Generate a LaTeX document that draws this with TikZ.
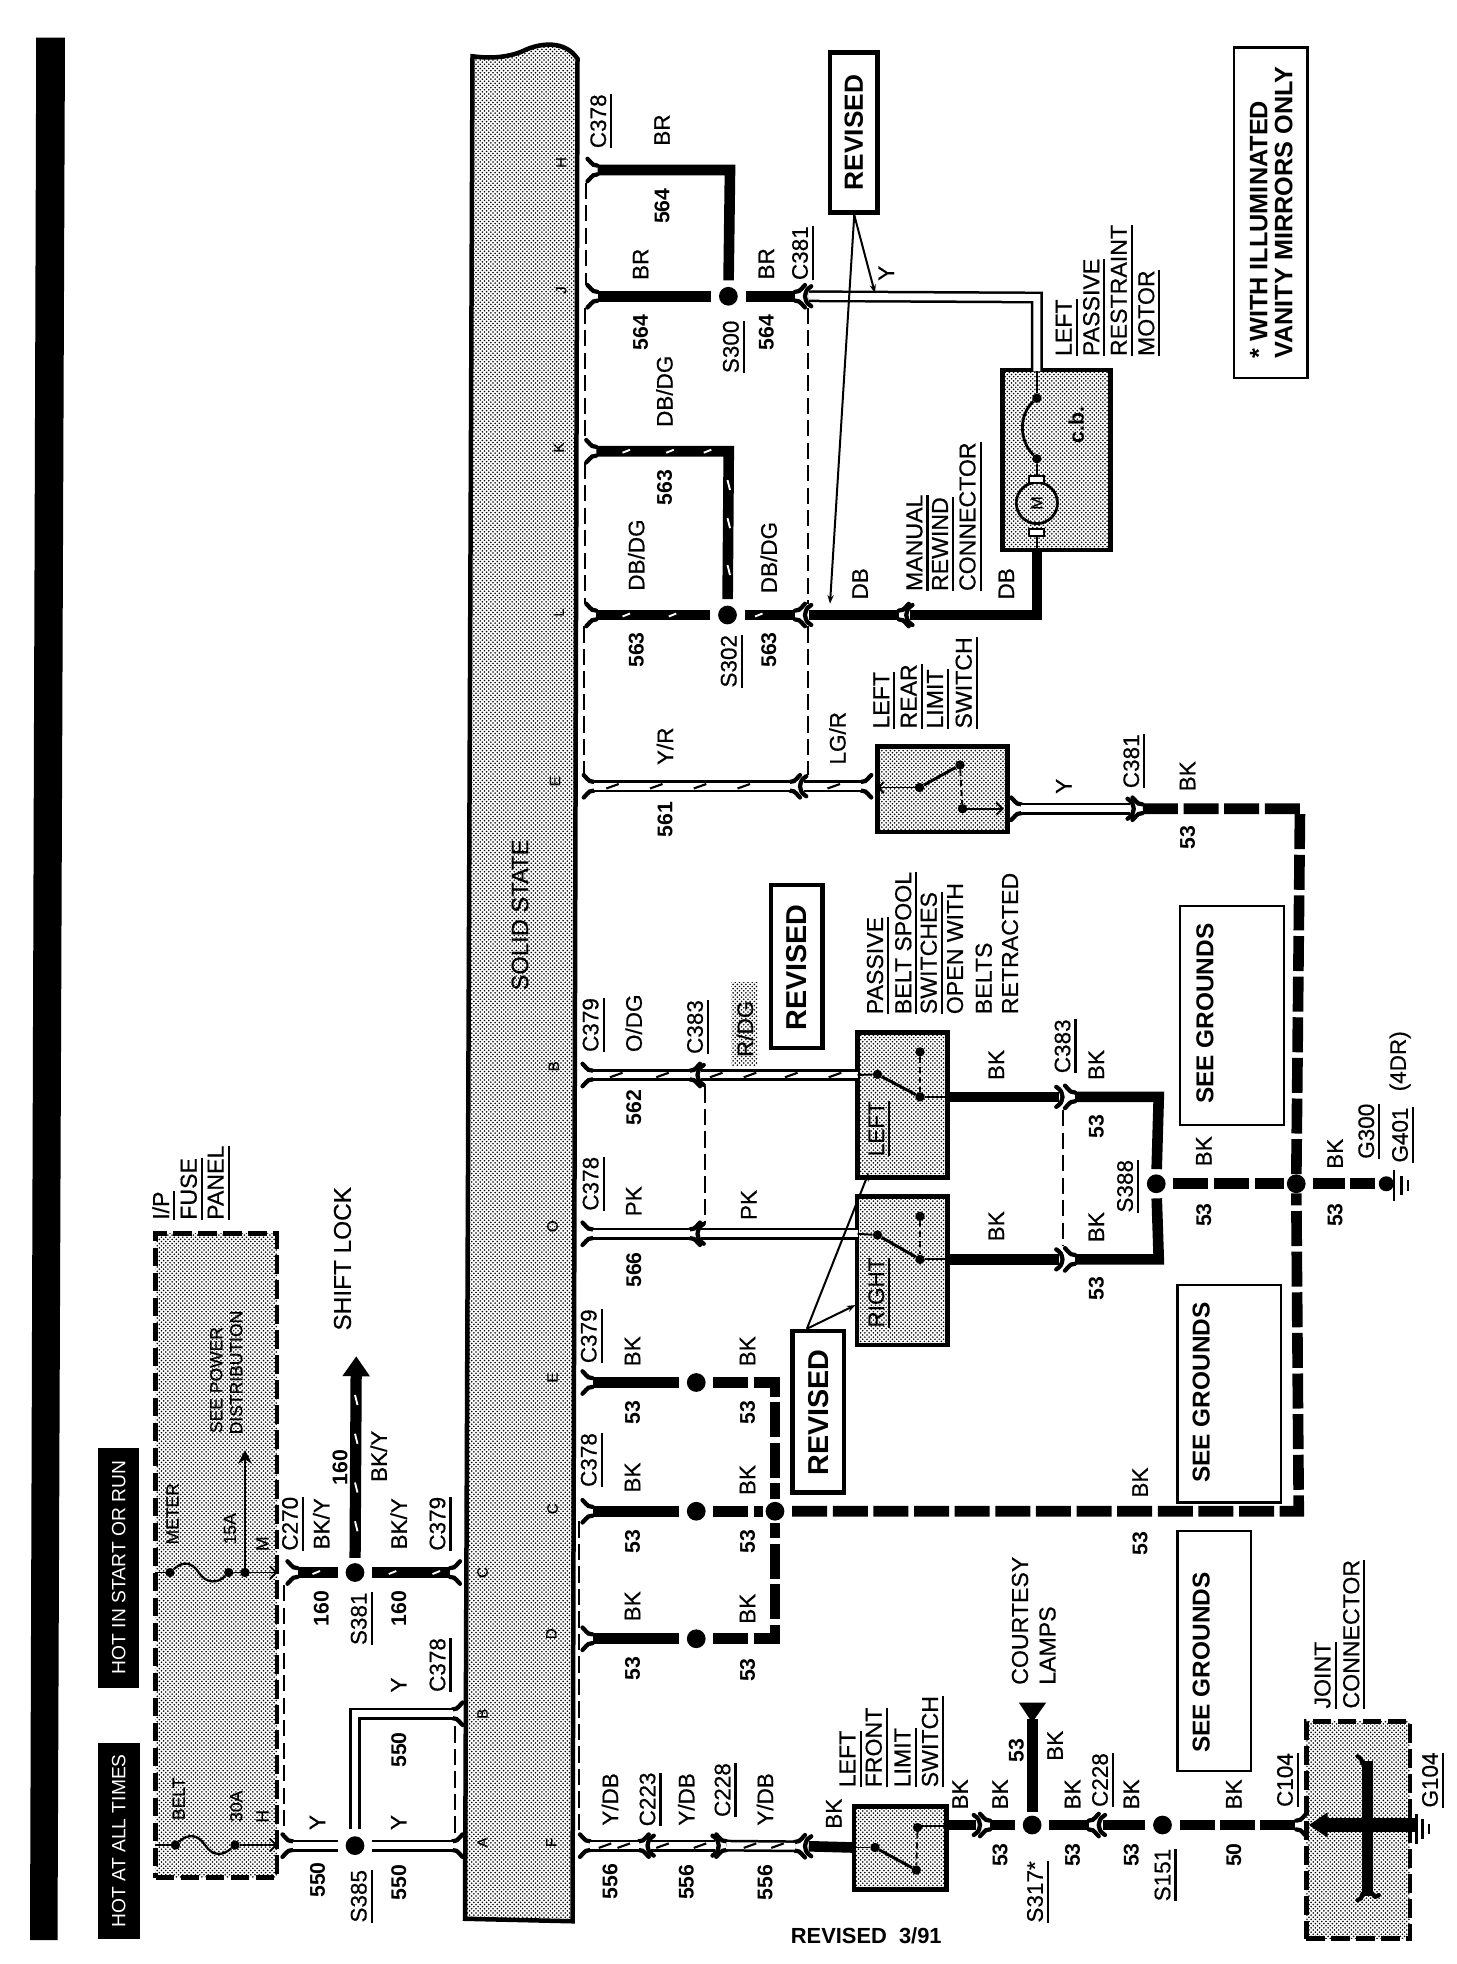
\documentclass[tikz,border=0pt]{standalone}
\usepackage{fontspec}
\setmainfont{Liberation Sans}
\newfontfamily\rg{Liberation Sans}[FakeBold=0.5]
\usetikzlibrary{patterns,arrows.meta}
\pgfdeclarepatternformonly{halft}{\pgfqpoint{-1pt}{-1pt}}{\pgfqpoint{4.4pt}{4.4pt}}{\pgfqpoint{3.4pt}{3.4pt}}{\pgfpathcircle{\pgfqpoint{0pt}{0pt}}{0.76pt}\pgfpathcircle{\pgfqpoint{1.7pt}{1.7pt}}{0.76pt}\pgfusepath{fill}}
\newcounter{tx}
\newcommand\ulx[1]{\leavevmode\setbox0\hbox{#1}\rlap{\smash{\rule[-5pt]{\wd0}{1.7pt}}}\box0}
\newcommand\fs[1]{\fontsize{#1}{#1}\selectfont}
\tikzset{
  lab/.style={rotate=90,inner sep=0pt,font=\rg\fs{18}},
  num/.style={rotate=90,inner sep=0pt,font=\fs{17}\bfseries},
  stk/.style={rotate=90,inner sep=0pt,anchor=west,font=\rg\fs{18.5}},
  pinlab/.style={rotate=90,inner sep=0pt,font=\rg\fs{12}},
  small/.style={rotate=90,inner sep=0pt,font=\rg\fs{14}},
  hdr/.style={rotate=90,fill=black,text=white,inner sep=0pt,font=\fs{15.4}},
  halfbox/.style={pattern=halft,pattern color=black},
  swbox/.style={draw,line width=3.6pt,halfbox,inner sep=0pt},
  dbox/.style={draw,line width=3.7pt,dash pattern=on 15pt off 5pt,halfbox,inner sep=0pt},
  notebox/.style={draw,line width=1.8pt,inner sep=0pt},
  revbox/.style={draw,line width=3.4pt,inner sep=0pt},
  revtxt/.style={rotate=90,inner sep=0pt,font=\fs{23}\bfseries},
  seebox/.style={rotate=90,inner sep=0pt,font=\fs{19.5}\bfseries},
  wk/.style={line width=8.5pt},
  wkd/.style={line width=8.5pt,dash pattern=on 28pt off 4.5pt},
  wd/.style={line width=2pt,double=white,double distance=5.5pt},
  thin line/.style={line width=1.5pt},
  tdash/.style={line width=1.6pt,dash pattern=on 13pt off 5pt},
  prong/.style={line width=3.4pt,line cap=round},
  splice/.style={circle,fill=black,inner sep=0pt,minimum size=15pt},
  tiny dot/.style={circle,fill=black,inner sep=0pt,minimum size=7.5pt},
  barb/.style={-{Straight Barb[length=5pt,width=10pt]}},
  rev arrow/.style={line width=1.6pt,-{Stealth[length=7pt,width=5pt]}}
}
\newcommand\tlab[3]{\stepcounter{tx}\node[lab] (t\arabic{tx}) at (#1,#2) {#3};}
\newcommand\tnum[3]{\stepcounter{tx}\node[num] (t\arabic{tx}) at (#1,#2) {#3};}
\newcommand\tul[3]{\stepcounter{tx}\node[lab] (t\arabic{tx}) at (#1,#2) {\ulx{#3}};}
\newcommand\tstk[3]{\stepcounter{tx}\node[stk] (t\arabic{tx}) at (#1,#2) {\ulx{#3}};}
\newcommand\tstp[3]{\stepcounter{tx}\node[stk] (t\arabic{tx}) at (#1,#2) {#3};}
\newcommand\tpin[3]{\stepcounter{tx}\node[pinlab] (t\arabic{tx}) at (#1,#2) {#3};}
\newcommand\tsm[3]{\stepcounter{tx}\node[small] (t\arabic{tx}) at (#1,#2) {#3};}
% box: name x1 y1 x2 y2 style
\newcommand\bx[6]{\node[#6,minimum width={(#4-#2)*1pt},minimum height={(#5-#3)*1pt}] (#1) at ({(#2+#4)/2},{(#3+#5)/2}) {};}
% flare: name x y dir
\newcommand\fl[4]{\coordinate (#1) at (#2,#3);
 \draw[prong] ({#2},{#3-3.5}) .. controls ({#2+#4*3},{#3-3.5}) .. ({#2+#4*8},{#3-9});
 \draw[prong] ({#2},{#3+3.5}) .. controls ({#2+#4*3},{#3+3.5}) .. ({#2+#4*8},{#3+9});}
% pointed end: name x y dir (tip at x, pointing dir)
\newcommand\pn[4]{\coordinate (#1) at ({#2-#4*3},#3);
 \draw[prong] ({#2-#4*5},{#3-8}) .. controls ({#2-#4*1},{#3-5}) .. ({#2},{#3}) .. controls ({#2-#4*1},{#3+5}) .. ({#2-#4*5},{#3+8});}
\newcommand\hw[2]{\draw[white,line width=1.5pt] ({#1-3},{#2+1.2}) -- ({#1+3},{#2-1.2});}
\newcommand\hv[2]{\draw[white,line width=1.5pt] ({#1-1},{#2-4}) -- ({#1+1},{#2+4});}
\newcommand\hb[2]{\draw[line width=1.7pt] ({#1-5},{#2+1.8}) -- ({#1+5},{#2-1.8});}
\begin{document}
\begin{tikzpicture}[x=1pt,y=-1pt,line join=miter]
\useasboundingbox (0,0) rectangle (1164.8,1571.2);
% left bar
\fill (29,30) -- (52,30) -- (46,1552) -- (24,1552) -- cycle;
% headers
\node[hdr,minimum width=157pt,minimum height=34pt] (hotall) at (95,1472.5) {HOT AT ALL TIMES};
\node[hdr,minimum width=192pt,minimum height=33pt] (hotrun) at (95,1254) {HOT IN START OR RUN};
% main block
\path[draw,line width=3.6pt,halfbox] (378,45) .. controls (392,47) and (406,46) .. (418,41) .. controls (432,34) and (452,32) .. (462,47) -- (458,1537) -- (372,1535) -- cycle;
\stepcounter{tx}\node[rotate=90,inner sep=0pt,font=\rg\fs{19}] (solid) at (416,732) {SOLID STATE};
\tpin{386}{1474}{A}\tpin{386}{1371}{B}\tpin{386}{1258}{C}
\tpin{441}{1474}{F}\tpin{441}{1307}{D}\tpin{442}{1207}{C}\tpin{442}{1102}{E}\tpin{442}{981}{O}
\tpin{443}{853}{B}\tpin{444}{625}{E}\tpin{447}{490}{L}\tpin{447}{358}{K}\tpin{449}{232}{J}\tpin{449}{130}{H}
% fuse panel
\bx{panel}{124.5}{987}{221.5}{1502}{dbox}
\tsm{143}{1439}{BELT}\tsm{189}{1445}{30A}\tsm{210}{1453}{H}
\tsm{138}{1211}{METER}\tsm{184}{1223}{15A}\tsm{210}{1235}{M}
\tsm{173}{1104}{SEE POWER}\tsm{189}{1098}{DISTRIBUTION}
\tstk{128.6}{976}{I/P}\tstk{151}{976}{FUSE}\tstk{172.5}{976}{PANEL}
\node[tiny dot] (b1) at (140.4,1476) {};\node[tiny dot] (b2) at (188,1476) {};
\node[tiny dot] (m1) at (136,1258) {};\node[tiny dot] (m2) at (183,1258) {};\node[tiny dot] (m3) at (196,1258) {};
\coordinate (pb0) at (124,1476);\coordinate (pb1) at (222,1476);
\coordinate (pm0) at (124,1258);\coordinate (pm1) at (222,1258);\coordinate (pmu) at (196,1160);
\draw[thin line] (pb0) -- (b1);\draw[thin line,barb] (b2) -- (pb1);
\draw[line width=1.8pt] (b1) .. controls (150,1467) and (158,1467) .. (164,1476) .. controls (170,1485) and (178,1485) .. (b2);
\draw[thin line] (pm0) -- (m1);\draw[thin line,barb] (m2) -- (pm1);
\draw[line width=1.8pt] (m1) .. controls (146,1249) and (153,1249) .. (159,1258) .. controls (165,1267) and (174,1267) .. (m2);
\draw[thin line,-{Stealth[length=11pt,width=11pt]}] (m3) -- (pmu);
% S385 S381 area
\node[splice] (s385) at (284,1476.5) {};
\node[splice] (s381) at (284,1258) {};
\fl{y1}{234}{1476.5}{-1}
\fl{y2}{362}{1476.5}{1}
\fl{y3}{362}{1371}{1}
\fl{k1}{238}{1258}{-1}
\fl{k2}{360}{1258}{1}
\coordinate (ycorner) at (284,1371);
\draw[wd,shorten >=6pt] (y1) -- (s385);
\draw[wd,shorten <=6pt] (s385) -- (y2);
\draw[wd,shorten <=6pt] (s385) -- (ycorner) -- (y3);
\draw[wk,shorten >=6pt] (k1) -- (s381);
\draw[wk,shorten <=6pt] (s381) -- (k2);
\coordinate (d1a) at (227,1268);\coordinate (d1b) at (227,1467);
\coordinate (d2a) at (364,1381);\coordinate (d2b) at (364,1467);
\draw[tdash] (d1a) -- (d1b);\draw[tdash] (d2a) -- (d2b);
\coordinate (shift) at (285,1085);
\draw[line width=9pt,shorten <=4pt,-{Triangle[length=16pt,width=21pt]}] (s381) -- (shift);
\foreach \q in {1120,1151,1190,1221}{\hv{285}{\q}}
\hw{253}{1258}\hw{314}{1258}\hw{349}{1258}
\tul{232}{1219}{C270}\tlab{257}{1219}{BK/Y}\tnum{257}{1287}{160}\tnum{272}{1174}{160}\tlab{303}{1165}{BK/Y}
\tlab{319}{1219}{BK/Y}\tul{350}{1219}{C379}\tul{287}{1295}{S381}\tnum{319}{1287}{160}
\stepcounter{tx}\node[rotate=90,inner sep=0pt,font=\rg\fs{19.5}] (shiftlab) at (274,1007) {SHIFT LOCK};
\tlab{319}{1348}{Y}\tul{350}{1332}{C378}\tnum{319}{1400}{550}\tlab{319}{1458}{Y}\tnum{319}{1506}{550}
\tlab{254}{1458}{Y}\tnum{254}{1504}{550}\tul{287}{1517}{S385}
% rows of BK from block
\node[splice] (sD) at (557,1311) {};\node[splice] (sC) at (557,1209) {};\node[splice] (sE) at (557,1106) {};
\node[splice] (sM) at (620,1209) {};
\fl{pD}{474}{1311}{-1}\fl{pC}{474}{1209}{-1}\fl{pE}{474}{1106}{-1}
\draw[wk,shorten >=6pt] (pD) -- (sD);\draw[wk,shorten >=6pt] (pC) -- (sC);\draw[wk,shorten >=6pt] (pE) -- (sE);
\draw[wkd,shorten <=6pt,shorten >=2pt] (sD) -| (sM);
\draw[wkd,shorten <=6pt,shorten >=2pt] (sE) -| (sM);
\draw[wkd,shorten <=6pt,shorten >=2pt] (sC) -- (sM);
\coordinate (cC) at (1039,1209);\coordinate (cT) at (1040,647);
\node[splice] (sG) at (1037,947) {};
\node[splice] (s388) at (925,947) {};
\coordinate (pYs) at (914,647);
\draw[wkd,shorten <=6pt] (sM) -- (cC) -- (sG);
\draw[wkd] (sG) -- (cT) -- (pYs);
\draw[wkd,shorten <=6pt,shorten >=2pt] (s388) -- (sG);
\coordinate (gnd) at (1100,947);
\draw[wkd,shorten <=6pt,dash pattern=on 25pt off 4pt] (sG) -- (gnd);
\coordinate (dh1) at (463,1217);\coordinate (dh2) at (463,1467);
\draw[tdash] (dh1) -- (dh2);
\tlab{506}{1285}{BK}\tnum{506}{1335}{53}\tlab{506}{1182}{BK}\tnum{506}{1233}{53}\tlab{506}{1081}{BK}\tnum{506}{1130}{53}
\tul{471}{1168}{C378}\tul{471}{1069}{C379}
\tlab{598}{1081}{BK}\tnum{598}{1130}{53}\tlab{598}{1184}{BK}\tnum{598}{1233}{53}\tlab{598}{1287}{BK}\tnum{598}{1336}{53}
% ground G300
\node[circle,fill=black,inner sep=0pt,minimum size=12pt] (g300) at (1109,947) {};
\coordinate (ga1) at (1115,936);\coordinate (ga2) at (1115,961);
\coordinate (gb1) at (1121,941);\coordinate (gb2) at (1121,956);
\coordinate (gc1) at (1126,944);\coordinate (gc2) at (1126,953);
\draw[line width=2pt] (ga1) -- (ga2);\draw[line width=2pt] (gb1) -- (gb2);\draw[line width=1.6pt] (gc1) -- (gc2);
\tnum{1068}{972}{53}\tlab{1068}{923}{BK}\tul{1093}{905}{G300}\tul{1120}{908}{G401}\tlab{1120}{849}{(4DR)}
% Y/DB row
\fl{a1}{472}{1476.5}{-1}\fl{a2}{511}{1476.5}{1}
\pn{a3}{518}{1476.5}{-1}\pn{a4}{575}{1476.5}{1}
\fl{a5}{581}{1476.5}{-1}\fl{a6}{636}{1477}{1}
\pn{a7}{644}{1477}{-1}
\draw[wd] (a1) -- (a2);\draw[wd] (a3) -- (a4);\draw[wd] (a5) -- (a6);
\foreach \q in {484,499}{\hb{\q}{1476.5}}
\foreach \q in {530,560}{\hb{\q}{1476.5}}
\foreach \q in {600,622}{\hb{\q}{1476.5}}
\tlab{488}{1439.5}{Y/DB}\tnum{488}{1505}{556}\tul{518}{1439.5}{C223}\tlab{549}{1439.5}{Y/DB}\tnum{549}{1505.7}{556}
\tul{578}{1432}{C228}\tlab{612}{1439.5}{Y/DB}\tnum{612}{1506}{556}
% front limit switch
\bx{fsw}{683}{1445}{757}{1511.5}{swbox}
\coordinate (fin) at (683,1478);
\draw[wk] (a7) -- (fin);
\node[tiny dot] (f1) at (700,1478) {};\node[tiny dot] (f2) at (733,1496) {};\node[tiny dot] (f3) at (734,1462) {};
\coordinate (fo) at (757,1461);\coordinate (fil) at (683,1478);
\draw[thin line] (fil) -- (f1);\draw[line width=2.4pt] (f1) -- (f2);\draw[thin line] (f3) |- (fo);
\draw[thin line,dash pattern=on 5pt off 3pt] (f3) -- (f2);
\tlab{667}{1451}{BK}\tstk{678}{1430}{LEFT}\tstk{699}{1430}{FRONT}\tstk{722}{1430}{LIMIT}\tstk{744}{1430}{SWITCH}
\tlab{768}{1435.5}{BK}
% courtesy row
\node[splice] (s317) at (825.7,1460) {};\node[splice] (s151) at (930,1460) {};
\pn{c1}{784}{1460}{1}\fl{c2}{792}{1460}{-1}
\coordinate (c1b) at (757,1460);
\draw[wk] (c1b) -- (c1);
\draw[wk,shorten >=6pt] (c2) -- (s317);
\pn{c3}{879}{1460}{-1}\fl{c4}{871}{1460}{1}
\draw[wk,shorten <=6pt] (s317) -- (c4);
\draw[wk,shorten >=6pt] (c3) -- (s151);
\fl{c5}{1037}{1460}{1}
\draw[wkd,shorten <=6pt,dash pattern=on 28pt off 4pt] (s151) -- (c5);
\coordinate (lamp) at (825.7,1375);
\draw[line width=9pt,shorten <=3pt] (s317) -- (lamp);
\fill (815,1362) -- (837,1362) -- (825.7,1378) -- cycle;
\tlab{800}{1435.5}{BK}\tnum{800}{1484}{53}\tul{828}{1513.5}{S317*}\tnum{813}{1400.5}{53}\tlab{844}{1396.6}{BK}
\tlab{858}{1435.5}{BK}\tnum{858}{1484}{53}\tul{880}{1424}{C228}\tlab{905}{1435.5}{BK}\tnum{905}{1484}{53}
\tul{930}{1500}{S151}\tlab{987}{1435.5}{BK}\tnum{987}{1484}{50}\tul{1028}{1424}{C104}\tul{1144}{1424}{G104}
\tstk{1058}{1367}{JOINT}\tstk{1081}{1367}{CONNECTOR}
\tstp{816}{1348}{COURTESY}\tstp{838}{1348}{LAMPS}
\stepcounter{tx}\node[inner sep=0pt,font=\fs{17.5}\bfseries] (rev391) at (693,1548.6) {REVISED~ 3/91};
% joint connector
\bx{joint}{1045}{1377}{1128}{1551}{dbox}
\coordinate (jr) at (1132,1460);\coordinate (jl) at (1047,1460);
\draw[line width=11pt,-{Triangle[length=15pt,width=19pt]}] (jr) -- (jl);
\coordinate (jt) at (1094,1409);\coordinate (jb) at (1094,1517);
\draw[line width=9.5pt] (jt) -- (jb);
\draw[prong] (1090,1411) .. controls (1089,1407) .. (1086,1405);
\draw[prong] (1090,1515) .. controls (1089,1519) .. (1086,1520);
\draw[prong] (1098,1515) .. controls (1100,1518) .. (1103,1516);
\coordinate (ja1) at (1133,1451);\coordinate (ja2) at (1133,1475);
\coordinate (jb1) at (1138,1455);\coordinate (jb2) at (1138,1471);
\coordinate (jc1) at (1143,1459);\coordinate (jc2) at (1143,1467);
\draw[line width=2.5pt] (ja1) -- (ja2);\draw[line width=2pt] (jb1) -- (jb2);\draw[line width=1.6pt] (jc1) -- (jc2);
% SEE GROUNDS boxes
\bx{sg1}{942}{1225}{1001}{1417}{notebox}
\bx{sg2}{942}{1028}{1025}{1202}{notebox}
\bx{sg3}{944}{725}{1027}{900}{notebox}
\node[seebox] (sgt1) at (961,1330) {SEE GROUNDS};
\node[seebox] (sgt2) at (961,1114) {SEE GROUNDS};
\node[seebox] (sgt3) at (964,811) {SEE GROUNDS};
\tlab{912}{1186}{BK}\tnum{912}{1235}{53}
% S388 branches
\coordinate (lout) at (758,877.5);\coordinate (rout) at (758,1007.5);
\coordinate (cl) at (927,877.5);\coordinate (cr) at (927,1007.5);
\pn{l1}{850}{877.5}{1}\fl{l2}{860}{877.5}{-1}
\pn{r1}{850}{1007.5}{1}\fl{r2}{860}{1007.5}{-1}
\draw[wk] (lout) -- (l1);\draw[wk] (rout) -- (r1);
\draw[wk,shorten >=4pt] (l2) -- (cl) -- (s388);
\draw[wk,shorten >=4pt] (r2) -- (cr) -- (s388);
\coordinate (d3a) at (850,888);\coordinate (d3b) at (850,997);
\draw[tdash] (d3a) -- (d3b);
\tlab{797}{852}{BK}\tul{850}{837}{C383}\tlab{877}{852}{BK}\tnum{877}{901}{53}\tul{900}{949}{S388}
\tlab{963}{921}{BK}\tnum{963}{972}{53}
\tlab{797}{981}{BK}\tlab{877}{981.7}{BK}\tnum{877}{1031}{53}
% belt spool switches
\bx{lsw}{686}{826}{758}{942}{swbox}
\bx{rsw}{685.5}{957}{758}{1076}{swbox}
\node[rotate=90,inner sep=0pt,font=\rg\fs{18}] (ltxt) at (701,903) {\ulx{LEFT}};
\node[rotate=90,inner sep=0pt,font=\rg\fs{18}] (rtxt) at (701,1034) {\ulx{RIGHT}};
\node[tiny dot] (l1d) at (702,859.5) {};\node[tiny dot] (l2d) at (736,877.5) {};\node[tiny dot] (l3d) at (736,841.5) {};
\node[tiny dot] (r1d) at (702,988) {};\node[tiny dot] (r2d) at (736,1007.5) {};\node[tiny dot] (r3d) at (736,973) {};
\draw[line width=2.4pt] (l1d) -- (l2d);\draw[line width=2.4pt] (r1d) -- (r2d);
\draw[thin line,dash pattern=on 5pt off 3pt] (l3d) -- (l2d);\draw[thin line,dash pattern=on 5pt off 3pt] (r3d) -- (r2d);
\draw[thin line] (l2d) -- (lout);\draw[thin line] (r2d) -- (rout);
% PK and O/DG rows
\fl{o1}{474}{860}{-1}\fl{o2}{552}{860}{1}\pn{o3}{558}{860}{-1}
\fl{q1}{474}{987}{-1}\fl{q2}{552}{987}{1}\pn{q3}{558}{987}{-1}
\coordinate (o4) at (686,860);\coordinate (q4) at (686,987);
\draw[wd] (o1) -- (o2);\draw[wd] (o3) -- (o4);\draw[wd] (q1) -- (q2);\draw[wd] (q3) -- (q4);
\draw[line width=1.5pt] (o4) -- (l1d);\draw[line width=1.5pt] (q4) -- (r1d);
\foreach \q in {493,530,573,600,633,668}{\hb{\q}{860}}
\coordinate (d4a) at (564,869);\coordinate (d4b) at (564,978);
\draw[tdash] (d4a) -- (d4b);
\tul{472.5}{820}{C379}\tlab{507}{818.6}{O/DG}\tnum{507}{886}{562}\tul{556}{821.6}{C383}
\bx{rdgbg}{585}{786}{606}{852}{halfbox}
\tlab{596}{823}{R/DG}
\tul{472.5}{947}{C378}\tlab{507}{961}{PK}\tnum{507}{1016}{566}\tlab{599}{964}{PK}
% REVISED boxes
\bx{rev1}{617}{708}{658}{838.5}{revbox}\node[revtxt] (rev1t) at (637.5,774) {REVISED};
\bx{rev2}{634}{1065}{675}{1194}{revbox}\node[revtxt] (rev2t) at (655,1130) {REVISED};
\bx{rev3}{664}{42}{702}{170}{revbox}\node[revtxt,font=\fs{21}\bfseries] (rev3t) at (683,106) {REVISED};
\coordinate (rv2) at (645.5,1063);\coordinate (rt1) at (684.5,1044);\coordinate (rt2) at (695,938);
\draw[rev arrow] (rv2) -- (rt1);\draw[rev arrow] (rv2) -- (rt2);
\tstk{700}{811.5}{PASSIVE}\tstk{722.6}{811.5}{BELT SPOOL}\tstk{743}{811.5}{SWITCHES}
\tstp{764}{811.5}{OPEN WITH}\tstp{787}{811.5}{BELTS}\tstp{808}{811.5}{RETRACTED}
% rear limit row
\fl{e1}{475}{629}{-1}\fl{e2}{632}{629}{1}\pn{e3}{640}{629}{-1}\fl{e4}{689}{629}{1}
\draw[wd] (e1) -- (e2);\draw[wd] (e3) -- (e4);
\foreach \q in {490,525,560,595,667}{\hb{\q}{629}}
\tlab{532}{597}{Y/R}\tnum{532}{655.5}{561}\tlab{670}{590.6}{LG/R}
\bx{rear}{702}{597}{806}{665.5}{swbox}
\node[tiny dot] (e5) at (735.6,630) {};\node[tiny dot] (e6) at (768,612) {};\node[tiny dot] (e7) at (770,647) {};
\coordinate (e8) at (702,630);\coordinate (e9) at (803,647);
\draw[thin line,{Straight Barb[length=4pt,width=9pt]}-] (e8) -- (e5);
\draw[line width=2.4pt] (e5) -- (e6);\draw[thin line,dash pattern=on 5pt off 3pt] (e6) -- (e7);
\draw[thin line,barb] (e7) -- (e9);
\fl{e10}{817}{647}{-1}\pn{e11}{907}{647}{1}\fl{e12}{914}{647}{-1}
\draw[wd] (e10) -- (e11);
\tlab{851}{629}{Y}\tul{905}{609}{C381}\tlab{950}{621}{BK}\tnum{950}{670}{53}
\tstk{705}{583}{LEFT}\tstk{727}{583}{REAR}\tstk{748}{583}{LIMIT}\tstk{771}{583}{SWITCH}
% top right rows
\node[splice] (s300) at (582.7,237) {};\node[splice] (s302) at (582,492) {};
\fl{h1}{478}{136}{-1}\fl{j1}{478}{237}{-1}\fl{k3}{477}{361}{-1}\fl{l3}{477}{492}{-1}
\coordinate (hc) at (584,136);\coordinate (kc) at (583,361);
\draw[wk,shorten >=5pt] (h1) -- (hc) -- (s300);
\draw[wk,shorten >=6pt] (j1) -- (s300);
\draw[wk,shorten >=5pt] (k3) -- (kc) -- (s302);
\draw[wk,shorten >=6pt] (l3) -- (s302);
\fl{j2}{636}{237}{1}\pn{j3}{644}{237}{-1}
\fl{l4}{636}{492}{1}\pn{l5}{644}{492}{-1}
\draw[wk,shorten <=6pt] (s300) -- (j2);
\draw[wk,shorten <=6pt] (s302) -- (l4);
\foreach \q in {501,536,566}{\hw{\q}{361}}
\foreach \q in {388,418.5,456}{\hv{583}{\q}}
\hw{501}{492}\hw{538}{492}\hw{607}{492}
\coordinate (dj1) at (469,146);\coordinate (dj2) at (469,228);
\coordinate (dk1) at (468,246);\coordinate (dk2) at (468,352);
\coordinate (dl1) at (468,370);\coordinate (dl2) at (468,483);
\coordinate (de1) at (467,501);\coordinate (de2) at (467,620);
\draw[tdash] (dj1) -- (dj2);\draw[tdash] (dk1) -- (dk2);\draw[tdash] (dl1) -- (dl2);\draw[tdash] (de1) -- (de2);
\coordinate (dm1) at (646.5,246);\coordinate (dm2) at (646.5,483);
\coordinate (dn1) at (646,501);\coordinate (dn2) at (646,620);
\draw[tdash] (dm1) -- (dm2);\draw[tdash] (dn1) -- (dn2);
\tul{478.6}{97}{C378}\tlab{529.6}{104}{BR}\tnum{529.6}{165}{564}\tlab{512.5}{211.4}{BR}\tnum{512.5}{266}{564}
\tul{584.7}{277.5}{S300}\tlab{613}{211}{BR}\tnum{613}{266}{564}\tul{640}{202.5}{C381}
\tlab{531.6}{313}{DB/DG}\tnum{531.6}{390}{563}\tlab{509}{444}{DB/DG}\tnum{509}{520}{563}
\tul{583}{529}{S302}\tlab{615}{446}{DB/DG}\tnum{615}{520}{563}
% motor
\bx{motor}{802}{296}{888.5}{440}{swbox}
\coordinate (mt) at (829.5,297);\coordinate (mb) at (829.5,440);\coordinate (jc) at (829.5,238);
\draw[wd] (j3) -- (jc) -- (mt);
\coordinate (lc) at (829.5,492);
\fl{l7}{719}{492}{1}\pn{l8}{725}{492}{-1}
\draw[wk] (l5) -- (l7);\draw[wk] (l8) -- (lc) -- (mb);
\node[tiny dot] (cb1) at (829.5,318.5) {};\node[tiny dot] (cb2) at (829.5,367) {};
\draw[line width=1.6pt] (mt) -- (cb1);
\draw[line width=2.2pt] (cb1) .. controls (815,332) and (815,352) .. (cb2);
\node[circle,draw,line width=2.2pt,minimum size=33pt,inner sep=0pt,rotate=90,font=\rg\fs{13}] (mot) at (829.5,402.4) {M};
\draw[line width=1.6pt] (cb2) -- (mot);
\bx{br1}{823.5}{381}{835.5}{386.5}{draw,fill=white,line width=1.5pt,inner sep=0pt}
\bx{br2}{823.5}{423}{835.5}{428.5}{draw,fill=white,line width=1.5pt,inner sep=0pt}
\draw[line width=1.6pt] (br2) -- (mb);
\node[rotate=90,inner sep=0pt,font=\fs{17}\bfseries] (cbt) at (861,340) {c.b.};
\tstk{851}{285}{LEFT}\tstk{873}{285}{PASSIVE}\tstk{895}{285}{RESTRAINT}\tstk{917}{285}{MOTOR}
\tlab{688}{467}{DB}\tlab{805}{467}{DB}
\tstk{731.6}{473}{MANUAL}\tstk{752}{473}{REWIND}\tstk{774}{473}{CONNECTOR}
\coordinate (rv3) at (683.4,172);\coordinate (rt3) at (700,234.6);\coordinate (rt4) at (664,483);
\draw[rev arrow] (rv3) -- (rt3);\draw[rev arrow] (rv3) -- (rt4);
\tlab{709}{218.6}{Y}
% note
\bx{note}{987}{38}{1046}{302.5}{notebox}
\node[rotate=90,inner sep=0pt,anchor=west,font=\fs{20.2}\bfseries] (n1) at (1007,287) {* WITH ILLUMINATED};
\node[rotate=90,inner sep=0pt,anchor=west,font=\fs{20.2}\bfseries] (n2) at (1027,287) {VANITY MIRRORS ONLY};
\end{tikzpicture}
\end{document}
